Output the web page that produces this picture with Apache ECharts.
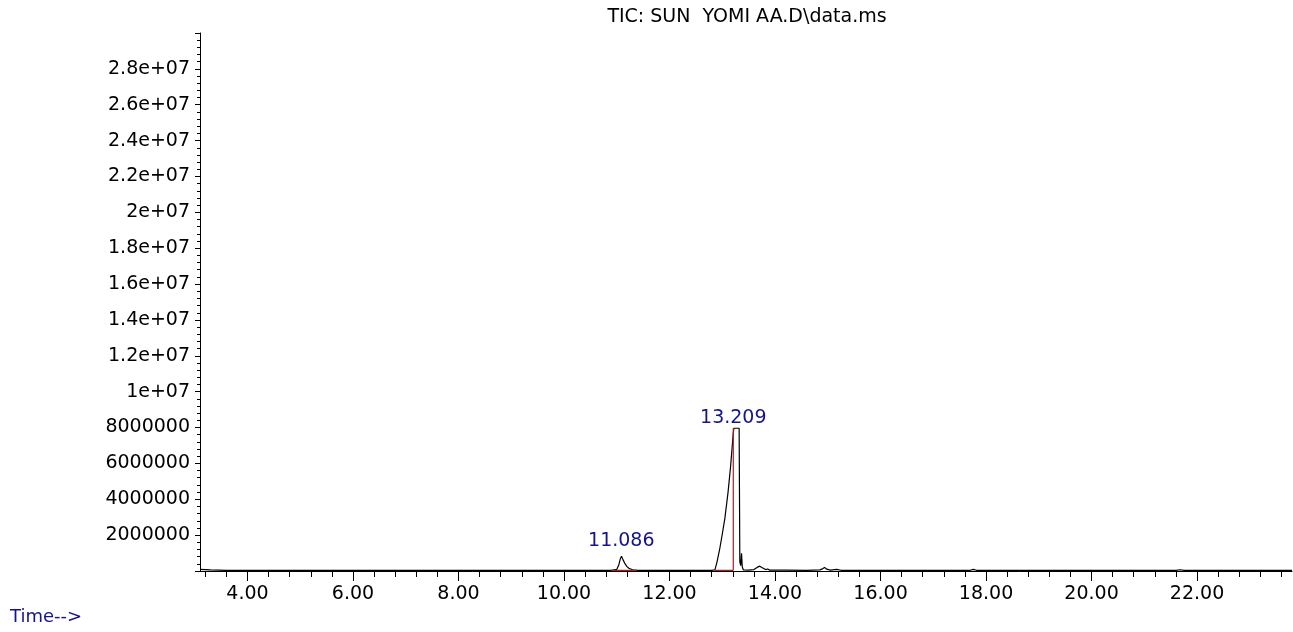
<!DOCTYPE html>
<html>
<head>
<meta charset="utf-8">
<title>TIC: SUN YOMI AA.D\data.ms</title>
<script src="https://cdn.jsdelivr.net/npm/echarts@6/dist/echarts.min.js"></script>
<style>
html, body { margin: 0; padding: 0; background: #fff; }
#container { width: 1293px; height: 632px; }
</style>
</head>
<body>
<div id="container"></div>
<script>
/* TIC trace, [retention time (min), abundance] */
var ticTrace = [
  [3.10, 9e4], [3.30, 6e4], [3.60, 4e4], [4.50, 3.5e4], [5.50, 3.5e4],
  [6.50, 3e4], [7.50, 3e4], [8.50, 3e4], [9.50, 3.5e4], [10.30, 3.5e4],
  [10.90, 4e4], [11.00, 9e4], [11.04, 3.5e5], [11.07, 7e5], [11.09, 8.2e5],
  [11.12, 6.2e5], [11.15, 4.4e5], [11.19, 2.6e5], [11.23, 1.5e5], [11.30, 7e4],
  [11.40, 4e4], [12.00, 3.5e4], [12.50, 3.5e4], [12.80, 4e4], [12.86, 6e4],
  [12.90, 5e5], [12.95, 1.2e6], [13.00, 2.05e6], [13.05, 2.95e6], [13.11, 4.4e6],
  [13.16, 5.9e6], [13.206, 7.6e6], [13.22, 7.96e6], [13.32, 7.96e6], [13.333, 5.1e5],
  [13.35, 3e5], [13.365, 9.9e5], [13.38, 2.2e5], [13.40, 6e4], [13.50, 5e4],
  [13.60, 8e4], [13.66, 2e5], [13.71, 2.7e5], [13.76, 1.8e5], [13.82, 8e4],
  [13.86, 1.1e5], [13.90, 5e4], [14.20, 4.5e4], [14.60, 4e4], [14.85, 6e4],
  [14.90, 1.2e5], [14.94, 2e5], [14.98, 1e5], [15.05, 5e4], [15.17, 9e4],
  [15.25, 4e4], [16.00, 3.5e4], [16.80, 3.5e4], [17.70, 4e4], [17.76, 9e4],
  [17.82, 4e4], [18.60, 3e4], [19.50, 3e4], [20.50, 3e4], [21.60, 3.5e4],
  [21.68, 7e4], [21.76, 3.5e4], [22.60, 3e4], [23.80, 3e4]
];

/* integrated peaks */
var peakTimes = [11.086, 13.209];
var peakHeights = [8.2e5, 7.96e6];
var peakBaselines = [[10.90, 11.37], [12.86, 13.209]];
var baseLevel = 4e4;

/* time axis ticks */
var majorTimes = [4, 6, 8, 10, 12, 14, 16, 18, 20, 22];
var minorTimes = [];
for (var t = 3.2; t < 23.8; t += 0.4) {
  minorTimes.push(+t.toFixed(1));
}

var FONT = 'DejaVu Sans';
var dom = document.getElementById('container');
var myChart = echarts.init(dom, null, { renderer: 'canvas' });

function abundanceLabel(v) {
  if (v <= 0 || v >= 3e7) return '';
  if (v < 1e7) return String(v);
  // 1.2e+7 -> 1.2e+07, like the printout
  return v.toExponential().replace(/e\+(\d)$/, 'e+0$1');
}

// red integration lines: baselines plus the drop line of the big peak
var redSegments = peakBaselines.map(function (b) {
  return [[b[0], baseLevel], [b[1], baseLevel]];
});
redSegments.push([[peakTimes[1], baseLevel], [peakTimes[1], peakHeights[1]]]);

var series = [{
  name: 'TIC',
  type: 'line',
  data: ticTrace,
  showSymbol: false,
  symbol: 'none',
  animation: false,
  lineStyle: { color: '#000', width: 1.2 },
  xAxisIndex: 0,
  yAxisIndex: 0,
  z: 2
}];

redSegments.forEach(function (seg) {
  series.push({
    type: 'line',
    data: seg,
    symbol: 'none',
    animation: false,
    lineStyle: { color: '#b01c1c', width: 1.2 },
    z: 3
  });
});

series.push({
  name: 'peaks',
  type: 'scatter',
  symbolSize: 0,
  animation: false,
  itemStyle: { opacity: 1 },
  data: peakTimes.map(function (pt, i) {
    return {
      value: [pt, peakHeights[i]],
      label: { distance: i === 0 ? 6 : 1 }
    };
  }),
  label: {
    show: true,
    position: 'top',
    fontFamily: FONT,
    fontSize: 19,
    color: '#14148c',
    opacity: 1,
    formatter: function (p) { return p.value[0].toFixed(3); }
  },
  z: 4
});

var option = {
  backgroundColor: '#fff',
  animation: false,
  title: [{
    text: 'TIC: SUN  YOMI AA.D\\data.ms',
    left: 742,
    top: 3,
    textAlign: 'center',
    textStyle: { fontFamily: FONT, fontSize: 19, fontWeight: 'normal', color: '#000' }
  }, {
    text: 'Time-->',
    left: 5,
    top: 603,
    textStyle: { fontFamily: FONT, fontSize: 18, fontWeight: 'normal', color: '#14148c' }
  }],
  grid: {
    left: 200,
    right: 1,
    top: 33,
    bottom: 61,
    outerBoundsMode: 'none'
  },
  xAxis: [{
    type: 'value',
    min: 3.1,
    max: 23.8,
    position: 'bottom',
    axisLine: { show: true, onZero: false, lineStyle: { color: '#000', width: 1 } },
    axisTick: { show: true, customValues: majorTimes, length: 10, lineStyle: { color: '#000' } },
    axisLabel: {
      show: true,
      customValues: majorTimes,
      margin: 14,
      fontFamily: FONT,
      fontSize: 19,
      color: '#000',
      formatter: function (v) { return v.toFixed(2); }
    },
    splitLine: { show: false }
  }, {
    type: 'value',
    min: 3.1,
    max: 23.8,
    position: 'bottom',
    axisLine: { show: false, onZero: false },
    axisTick: { show: true, customValues: minorTimes, length: 6, lineStyle: { color: '#000' } },
    axisLabel: { show: false },
    splitLine: { show: false }
  }],
  yAxis: {
    type: 'value',
    min: 0,
    max: 3e7,
    interval: 2e6,
    axisLine: { show: true, lineStyle: { color: '#000', width: 1 } },
    axisTick: { show: true, length: 5, lineStyle: { color: '#000' } },
    minorTick: { show: true, splitNumber: 5, length: 3, lineStyle: { color: '#000' } },
    axisLabel: {
      margin: 10,
      fontFamily: FONT,
      fontSize: 19,
      color: '#000',
      formatter: abundanceLabel
    },
    splitLine: { show: false },
    minorSplitLine: { show: false }
  },
  series: series
};

myChart.setOption(option);
</script>
</body>
</html>
